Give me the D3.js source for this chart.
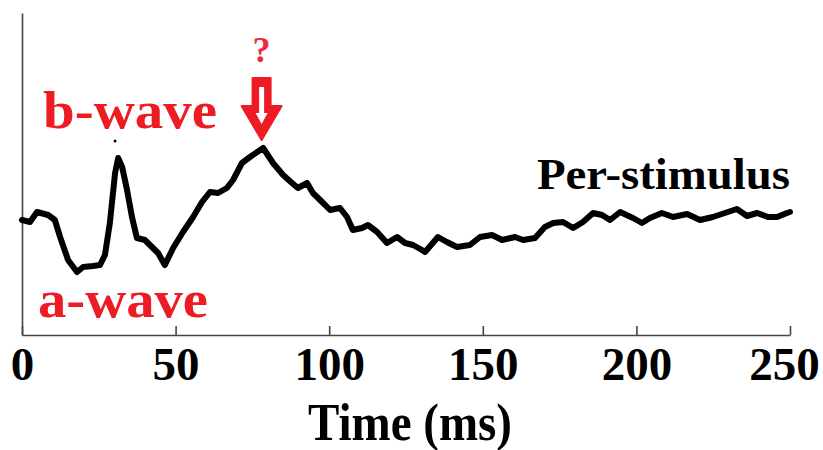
<!DOCTYPE html>
<html>
<head>
<meta charset="utf-8">
<script src="https://cdn.jsdelivr.net/npm/d3@7"></script>
<style>
  html, body { margin: 0; padding: 0; background: #ffffff; }
  svg { display: block; }
</style>
</head>
<body>
<svg id="chart" width="823" height="450"></svg>
<script>
// ---- data ----
const timeMs = [0, 2.6, 4.9, 8.5, 10.7, 12.4, 15.0, 17.9, 19.9, 23.1, 25.4, 27.0, 28.6, 30.3, 31.3, 32.6, 34.2, 35.8, 37.4, 40.0,
  42.3, 44.3, 46.5, 49.2, 52.4, 55.7, 58.6, 61.2, 63.8, 66.7, 68.7, 71.6, 74.2, 78.5, 81.7, 85.0, 87.9, 89.8, 92.8, 94.7,
  97.7, 100.3, 103.5, 105.8, 107.7, 110.7, 112.6, 115.6, 118.8, 122.1, 124.7, 127.3, 130.2, 131.2, 135.4, 138.3, 141.6, 145.8, 149.1, 153.0,
  156.3, 160.5, 163.1, 167.0, 170.2, 172.9, 176.1, 179.4, 182.6, 185.9, 188.8, 191.4, 194.7, 198.9, 201.8, 204.4, 208.3, 211.9, 216.5, 220.7,
  224.9, 228.8, 232.7, 236.0, 239.3, 242.8, 245.8, 249.0, 250];
const amplitude = [0, -1, 4, 2.5, 0, -8.5, -20, -26, -23.5, -23, -22.5, -17.5, -1.5, 23.5, 31, 26.5, 15, 1.5, -9, -10,
  -13.5, -16.5, -22.5, -14, -6, 1.5, 9, 14, 13.5, 16, 20, 28.5, 31.5, 36, 28.5, 22.5, 18.5, 16, 18.5, 13.5,
  9, 5, 6, 1.5, -5, -4, -2.5, -6, -11.5, -8.5, -11.5, -12.5, -15, -16, -8.5, -11, -13.5, -12.5, -8.5, -7.5,
  -10, -8.5, -10, -9, -3.5, -1.5, -1, -4, -1, 3.5, 2.5, 0, 4, 1, -1.5, 1, 3.5, 1.5, 3, 0,
  1.5, 3.5, 5.5, 2, 3.5, 1.5, 1.5, 3.5, 4];
const xTicks = [0, 50, 100, 150, 200, 250];
const xTitle = "Time (ms)";
const bWaveDot = { t: 30.3, v: 39.5 };
const arrowTime = 78;

// ---- scales ----
const svg = d3.select("#chart");
const x = d3.scaleLinear().domain([0, 250]).range([22, 790]);
const y = d3.scaleLinear().domain([-57.5, 103.5]).range([335, 13]);

const serif = "'Liberation Serif', 'Times New Roman', Times, serif";
const red = "#ed1c24";

// ---- axes ----
const xAxis = d3.axisBottom(x).tickValues(xTicks).tickSize(-9).tickSizeOuter(0).tickPadding(12)
  .tickFormat(d3.format("d"));
const gx = svg.append("g").attr("transform", `translate(0,${y.range()[0]})`).call(xAxis);
gx.select(".domain").attr("stroke", "#444").attr("stroke-width", 1.6);
gx.selectAll(".tick line").attr("stroke", "#444").attr("stroke-width", 1.6);
gx.selectAll(".tick text")
  .attr("font-family", serif).attr("font-weight", "bold").attr("font-size", 47)
  .attr("fill", "#000")
  .attr("x", d => d === 250 ? -6 : 0);

const yAxis = d3.axisLeft(y).tickValues([]).tickSizeOuter(0);
const gy = svg.append("g").attr("transform", `translate(${x.range()[0]},0)`).call(yAxis);
gy.select(".domain").attr("stroke", "#444").attr("stroke-width", 1.6);

// axis title
svg.append("text")
  .attr("x", (x.range()[0] + x.range()[1]) / 2 + 4)
  .attr("y", 440)
  .attr("text-anchor", "middle")
  .attr("font-family", serif).attr("font-weight", "bold").attr("font-size", 52)
  .attr("textLength", 204).attr("lengthAdjust", "spacingAndGlyphs")
  .text(xTitle);

// ---- trace ----
const pts = timeMs.map((t, i) => [t, amplitude[i]]);
const line = d3.line().x(d => x(d[0])).y(d => y(d[1]));
svg.append("path")
  .datum(pts)
  .attr("d", line)
  .attr("fill", "none")
  .attr("stroke", "#000")
  .attr("stroke-width", 6)
  .attr("stroke-linejoin", "round")
  .attr("stroke-linecap", "round");

// small dot above b-wave
svg.append("circle")
  .attr("cx", x(bWaveDot.t)).attr("cy", y(bWaveDot.v)).attr("r", 1.5).attr("fill", "#000");

// ---- annotations ----
svg.append("text")
  .attr("x", 43).attr("y", 128)
  .attr("font-family", serif).attr("font-weight", "bold").attr("font-size", 53)
  .attr("fill", red)
  .attr("textLength", 174).attr("lengthAdjust", "spacingAndGlyphs")
  .text("b-wave");

svg.append("text")
  .attr("x", 38).attr("y", 317)
  .attr("font-family", serif).attr("font-weight", "bold").attr("font-size", 53)
  .attr("fill", red)
  .attr("textLength", 170).attr("lengthAdjust", "spacingAndGlyphs")
  .text("a-wave");

svg.append("text")
  .attr("x", 537).attr("y", 189)
  .attr("font-family", serif).attr("font-weight", "bold").attr("font-size", 44)
  .attr("fill", "#000")
  .attr("textLength", 253).attr("lengthAdjust", "spacingAndGlyphs")
  .text("Per-stimulus");

const cx = x(arrowTime);
svg.append("text")
  .attr("x", cx).attr("y", 62)
  .attr("text-anchor", "middle")
  .attr("font-family", serif).attr("font-weight", "bold").attr("font-size", 36)
  .attr("fill", "#ec2a3c")
  .text("?");

// hollow down arrow
const outer = [[cx - 9, 78], [cx + 9, 78], [cx + 9, 106], [cx + 20, 106], [cx, 140], [cx - 20, 106], [cx - 9, 106]];
const inner = [[cx - 2.5, 87], [cx + 2.5, 87], [cx + 2.5, 113], [cx + 6, 113], [cx, 124], [cx - 6, 113], [cx - 2.5, 113]];
svg.append("polygon")
  .attr("points", outer.map(p => p.join(",")).join(" "))
  .attr("fill", red).attr("stroke", red).attr("stroke-width", 2).attr("stroke-linejoin", "round");
svg.append("polygon")
  .attr("points", inner.map(p => p.join(",")).join(" "))
  .attr("fill", "#fff");
</script>
</body>
</html>
